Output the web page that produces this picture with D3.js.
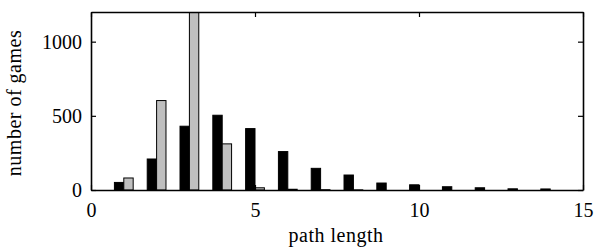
<!DOCTYPE html>
<html>
<head>
<meta charset="utf-8">
<script src="https://cdn.jsdelivr.net/npm/d3@7"></script>
<style>
  body { margin: 0; background: #fff; }
  svg text { font-family: "Liberation Serif", "Times New Roman", serif; fill: #000; }
</style>
</head>
<body>
<svg id="chart"></svg>
<script>
const WIDTH = 595;
const HEIGHT = 248;

// path lengths 1..14
const lengths = [1, 2, 3, 4, 5, 6, 7, 8, 9, 10, 11, 12, 13, 14];
const blackCounts = [51, 209, 430, 504, 414, 259, 146, 101, 47, 35, 22, 15, 8, 7];
const grayCounts = [81, 603, 1330, 311, 15, 5, 2, 1, 0, 0, 0, 0, 0, 0];
const xTicks = [0, 5, 10, 15];
const yTicks = [0, 500, 1000];

const margin = { top: 12, right: 12, bottom: 58, left: 91 };
const innerW = WIDTH - margin.left - margin.right;
const innerH = HEIGHT - margin.top - margin.bottom;

const svg = d3.select('#chart')
  .attr('width', WIDTH)
  .attr('height', HEIGHT);

const xScale = d3.scaleLinear().domain([0, 15]).range([0, innerW]);
const yScale = d3.scaleLinear().domain([0, 1200]).range([innerH, 0]);

const barW = 0.286;

svg.append('defs').append('clipPath').attr('id', 'plot-clip')
  .append('rect').attr('width', innerW).attr('height', innerH);

const g = svg.append('g').attr('transform', `translate(${margin.left},${margin.top})`);

const bars = g.append('g').attr('clip-path', 'url(#plot-clip)');

const series = [
  { values: blackCounts, offset: -barW, fill: '#000' },
  { values: grayCounts, offset: 0, fill: '#bfbfbf' }
];

series.forEach(s => {
  bars.selectAll(null)
    .data(lengths.map((k, i) => ({ k, v: s.values[i] })))
    .enter()
    .append('rect')
    .attr('x', d => xScale(d.k + s.offset))
    .attr('width', xScale(barW) - xScale(0))
    .attr('y', d => yScale(d.v))
    .attr('height', d => yScale(0) - yScale(d.v))
    .attr('fill', s.fill)
    .attr('stroke', '#000')
    .attr('stroke-width', 1);
});

// axes with inward ticks, box style
const tickLen = 5;
const fontSize = 20;
const fmt = d3.format('d');

const axBottom = g.append('g').attr('transform', `translate(0,${innerH})`)
  .call(d3.axisBottom(xScale).tickValues(xTicks).tickFormat(fmt).tickSizeInner(-tickLen).tickSizeOuter(0).tickPadding(13));
const axTop = g.append('g')
  .call(d3.axisTop(xScale).tickValues(xTicks).tickSizeInner(-tickLen).tickSizeOuter(0).tickFormat(''));
const axLeft = g.append('g')
  .call(d3.axisLeft(yScale).tickValues(yTicks).tickFormat(fmt).tickSizeInner(-tickLen).tickSizeOuter(0).tickPadding(9));
const axRight = g.append('g').attr('transform', `translate(${innerW},0)`)
  .call(d3.axisRight(yScale).tickValues(yTicks).tickSizeInner(-tickLen).tickSizeOuter(0).tickFormat(''));

[axBottom, axTop, axLeft, axRight].forEach(a => {
  a.select('.domain').attr('stroke', '#000').attr('stroke-width', 1.6);
  a.selectAll('.tick line').attr('stroke', '#000').attr('stroke-width', 1.2);
  a.selectAll('.tick text')
    .style('font-size', fontSize + 'px')
    .style('font-family', '"Liberation Serif", serif');
});

g.append('text')
  .attr('x', innerW / 2 - 1)
  .attr('y', innerH + 52)
  .attr('text-anchor', 'middle')
  .style('font-size', '20px')
  .style('letter-spacing', '0.5px')
  .text('path length');

g.append('text')
  .attr('transform', `translate(${-70},${innerH / 2 + 2}) rotate(-90)`)
  .attr('text-anchor', 'middle')
  .style('font-size', '20px')
  .style('letter-spacing', '0.5px')
  .text('number of games');
</script>
</body>
</html>
